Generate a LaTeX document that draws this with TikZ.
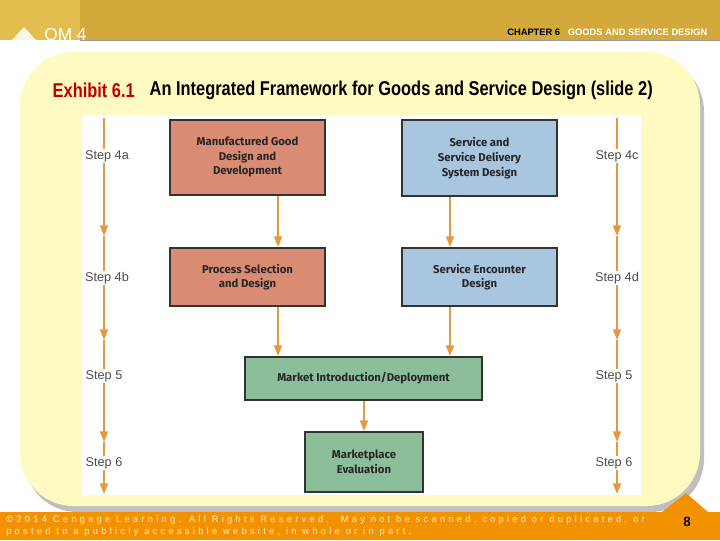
\documentclass[tikz,border=0pt]{standalone}
\usepackage{fontspec}
\setmainfont{Liberation Sans}
\newfontfamily\boxfont{Fira Sans}
\usetikzlibrary{arrows.meta,calc}
\definecolor{gold}{HTML}{D2A93A}
\definecolor{goldl}{HTML}{E3BE4E}
\definecolor{panel}{HTML}{FFFAC2}
\definecolor{salmon}{HTML}{D98B73}
\definecolor{sblue}{HTML}{A9C6E0}
\definecolor{sgreen}{HTML}{8DBE9A}
\definecolor{arr}{HTML}{E39A3E}
\definecolor{foot}{HTML}{F39200}
\definecolor{exred}{HTML}{C00000}
\begin{document}
\begin{tikzpicture}[x=0.75pt,y=-0.75pt,
  bx/.style={draw=black!80,line width=0.8pt},
  bt/.style={align=center,font=\boxfont\bfseries\fontsize{8.5}{11}\selectfont,text=black!85,inner sep=0pt},
  fl/.style={-{Triangle[length=8pt,width=6pt]},draw=arr,line width=1.3pt},
  stp/.style={font=\fontsize{9.5}{11}\selectfont,text=black!70,fill=white,inner sep=1pt}]
\useasboundingbox (0,0) rectangle (720,540);
\fill[white] (0,0) rectangle (720,540);
\fill[gold] (0,0) rectangle (720,40);
\fill[goldl] (0,0) rectangle (80,40);
\fill[white!90!gold] (12,40) -- (24,27) -- (36,40) -- cycle;
\node[anchor=base west,text=white,font=\fontsize{13}{13}\selectfont,inner sep=0pt] (om) at (44,40) {OM 4};
\draw[black!40,line width=0.6pt] (80,40) -- (720,40);
\node[anchor=east,font=\bfseries\fontsize{7}{8}\selectfont] (ch) at (712,32) {CHAPTER 6 \textcolor{white}{\ \ GOODS AND SERVICE DESIGN}};
% panel
\fill[black!25,rounded corners=40pt] (24,58) rectangle (704,512);
\fill[panel,rounded corners=40pt] (20,52) rectangle (700,506);
\node[anchor=west,font=\bfseries\fontsize{15}{17}\selectfont,text=exred] (ex) at (48,90) {\scalebox{0.82}[1]{Exhibit 6.1}};
\node[anchor=west,font=\bfseries\fontsize{15}{17}\selectfont] (tt) at (145,90) {\scalebox{0.82}[1]{An Integrated Framework for Goods and Service Design (slide 2)}};
\fill[white] (82,115) rectangle (641,495);
% boxes
\draw[bx,fill=salmon] (170,120) rectangle (325,195);
\node[bt] (mgd) at (247.5,157) {Manufactured Good\\Design and\\Development};
\draw[bx,fill=sblue] (402,120) rectangle (557,196);
\node[bt] (sv) at (479.5,158) {Service and\\Service Delivery\\System Design};
\draw[bx,fill=salmon] (170,248) rectangle (325,306);
\node[bt] (ps) at (247.5,277) {Process Selection\\and Design};
\draw[bx,fill=sblue] (402,248) rectangle (557,306);
\node[bt] (se) at (479.5,277) {Service Encounter\\Design};
\draw[bx,fill=sgreen] (245,357) rectangle (482,400);
\node[bt] (mi) at (363.5,378.5) {Market Introduction/Deployment};
\draw[bx,fill=sgreen] (305,432) rectangle (423,492);
\node[bt] (me) at (364,462) {Marketplace\\Evaluation};
\coordinate (mgb) at (278,196); \coordinate (psT) at (278,247);
\coordinate (svb) at (450,197); \coordinate (seT) at (450,247);
\coordinate (psb) at (278,307); \coordinate (miT1) at (278,356);
\coordinate (seb) at (450,307); \coordinate (miT2) at (450,356);
\coordinate (mib) at (364,401); \coordinate (meT) at (364,431);
\draw[fl] (mgb) -- (psT);
\draw[fl] (svb) -- (seT);
\draw[fl] (psb) -- (miT1);
\draw[fl] (seb) -- (miT2);
\draw[fl] (mib) -- (meT);
% side arrows
\foreach \x/\n in {104/L,617/R}{
  \coordinate (\n0) at (\x,118); \coordinate (\n1) at (\x,236);
  \coordinate (\n2) at (\x,340); \coordinate (\n3) at (\x,442); \coordinate (\n4) at (\x,494);
  \draw[fl] (\n0) -- (\n1); \draw[fl] (\n1) -- (\n2); \draw[fl] (\n2) -- (\n3); \draw[fl] (\n3) -- (\n4);
}
\node[stp] (s4a) at (107,156) {Step 4a};
\node[stp] (s4b) at (107,278) {Step 4b};
\node[stp] (s5l) at (104,376) {Step 5};
\node[stp] (s6l) at (104,463) {Step 6};
\node[stp] (s4c) at (617,156) {Step 4c};
\node[stp] (s4d) at (617,278) {Step 4d};
\node[stp] (s5r) at (614,376) {Step 5};
\node[stp] (s6r) at (614,463) {Step 6};
% footer
\fill[foot] (0,512) rectangle (720,540);
\fill[foot] (662,512) -- (686,493) -- (708,512) -- cycle;
\node[anchor=west,align=left,text=white!85!foot,font=\fontsize{7}{9}\selectfont,inner sep=0pt] (ft) at (6,526)
 {\addfontfeature{LetterSpace=35}©2014 Cengage Learning. All Rights Reserved.\ \ May not be scanned, copied or duplicated, or\\\addfontfeature{LetterSpace=35}posted to a publicly accessible website, in whole or in part.};
\node[font=\bfseries\fontsize{10}{10}\selectfont] (pg) at (687,522) {8};
\end{tikzpicture}
\end{document}
